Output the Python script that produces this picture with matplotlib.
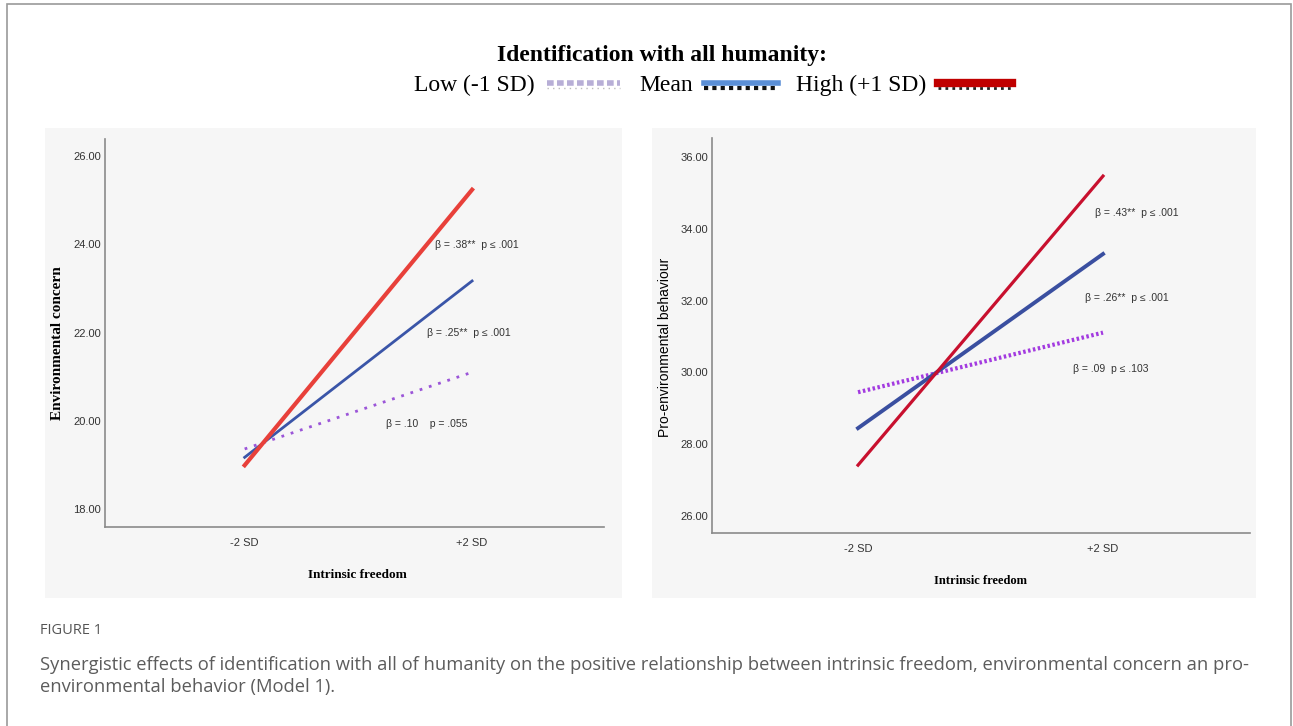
import matplotlib
matplotlib.use("Agg")
import matplotlib.pyplot as plt
from matplotlib.lines import Line2D
from matplotlib.patches import Rectangle
from matplotlib.legend_handler import HandlerBase

# данные
x_pos = [0, 1]
x_labels = ["-2 SD", "+2 SD"]

ec_low = [19.36, 21.10]
ec_mean = [19.17, 23.17]
ec_high = [18.99, 25.24]
ec_ticks = [18, 20, 22, 24, 26]

peb_low = [29.45, 31.11]
peb_mean = [28.45, 33.30]
peb_high = [27.42, 35.47]
peb_ticks = [26, 28, 30, 32, 34, 36]

ec_notes = ["β = .38**  p ≤ .001", "β = .25**  p ≤ .001", "β = .10    p = .055"]
ec_note_xy = [(0.838, 23.98), (0.803, 22.0), (0.623, 19.93)]
peb_notes = ["β = .43**  p ≤ .001", "β = .26**  p ≤ .001", "β = .09  p ≤ .103"]
peb_note_xy = [(0.967, 34.45), (0.927, 32.08), (0.878, 30.11)]

legend_labels = ["Low (-1 SD)", "Mean", "High (+1 SD)"]

W, H = 1293, 726
fig = plt.figure(figsize=(W / 100, H / 100), dpi=100)
fig.patch.set_facecolor("white")

narrow = ["Liberation Sans Narrow", "Liberation Sans", "DejaVu Sans"]
serif = ["Liberation Serif", "DejaVu Serif"]


def fr(x0, y0, x1, y1):
    # пиксели -> доли фигуры
    return [x0 / W, 1 - y1 / H, (x1 - x0) / W, (y1 - y0) / H]


# рамка
fig.add_artist(Rectangle((7 / W, -0.1), (1291 - 7) / W, 1.1 - 4 / H,
                         transform=fig.transFigure, fill=False,
                         edgecolor="#9a9a9a", linewidth=1.2, clip_on=False))

# серые подложки панелей
for box in [(45, 128, 622, 598), (652, 128, 1256, 598)]:
    bg = fig.add_axes(fr(*box))
    bg.set_facecolor("#f6f6f6")
    bg.set_xticks([])
    bg.set_yticks([])
    for s in bg.spines.values():
        s.set_visible(False)


def setup(ax, ticks, ylim, xlim):
    ax.patch.set_alpha(0)
    ax.set_xlim(*xlim)
    ax.set_ylim(*ylim)
    ax.set_yticks(ticks)
    ax.set_yticklabels(["%.2f" % t for t in ticks], family=narrow, fontsize=8, color="#333333")
    ax.set_xticks(x_pos)
    ax.set_xticklabels(x_labels, family=narrow, fontsize=8, color="#333333")
    ax.tick_params(length=0)
    ax.tick_params(axis="y", pad=3)
    ax.tick_params(axis="x", pad=8)
    for s in ["top", "right"]:
        ax.spines[s].set_visible(False)
    for s in ["left", "bottom"]:
        ax.spines[s].set_color("#8a8a8a")
        ax.spines[s].set_linewidth(1.2)


# левая панель
ax1 = fig.add_axes(fr(105, 139, 604, 527))
setup(ax1, ec_ticks, (17.59, 26.39), (-0.614, 1.58))
ax1.plot(x_pos, ec_low, color="#9b55d8", linestyle=(0, (1, 2.5)), linewidth=2)
ax1.plot(x_pos, ec_mean, color="#3a55a8", linewidth=2)
ax1.plot(x_pos, ec_high, color="#e8403a", linewidth=3)
for txt, (tx, ty) in zip(ec_notes, ec_note_xy):
    ax1.text(tx, ty, txt, family=narrow, fontsize=7.5, color="#333333", va="center")
ax1.set_ylabel("Environmental concern", family=serif, fontweight="bold", fontsize=11)
ax1.yaxis.set_label_coords(-0.082, 0.474)
ax1.set_xlabel("Intrinsic freedom", family=serif, fontweight="bold", fontsize=9.5)
ax1.xaxis.set_label_coords(0.505, -0.108)

# правая панель
ax2 = fig.add_axes(fr(712, 138, 1250, 533))
setup(ax2, peb_ticks, (25.53, 36.53), (-0.596, 1.6))
ax2.plot(x_pos, peb_low, color="#a33be0", linestyle=(0, (0.6, 0.6)), linewidth=3)
ax2.plot(x_pos, peb_mean, color="#3a4fa0", linewidth=2.8)
ax2.plot(x_pos, peb_high, color="#c8102e", linewidth=2.3)
for txt, (tx, ty) in zip(peb_notes, peb_note_xy):
    ax2.text(tx, ty, txt, family=narrow, fontsize=7.5, color="#333333", va="center")
ax2.set_ylabel("Pro-environmental behaviour", family=["Liberation Sans", "DejaVu Sans"], fontsize=10)
ax2.yaxis.set_label_coords(-0.074, 0.47)
ax2.set_xlabel("Intrinsic freedom", family=serif, fontweight="bold", fontsize=9)
ax2.xaxis.set_label_coords(0.5, -0.106)


# легенда: цветная линия и чёрный пунктир под ней
class TwoLineHandler(HandlerBase):
    def create_artists(self, legend, orig_handle, xdescent, ydescent,
                       width, height, fontsize, trans):
        top, bottom = orig_handle
        y = height / 2 - ydescent
        arts = []
        for st, dy in [(bottom, -4), (top, 0)]:
            ln = Line2D([-xdescent, width - xdescent], [y + dy, y + dy], **st)
            ln.set_transform(trans)
            arts.append(ln)
        return arts


leg_handles = [
    (dict(color="#b7aed6", linewidth=4, linestyle=(0, (1.2, 0.6))),
     dict(color="#bbbbbb", linewidth=1, linestyle=(0, (1, 3)))),
    (dict(color="#5b8fd6", linewidth=4),
     dict(color="#111111", linewidth=3, linestyle=(0, (1, 1)))),
    (dict(color="#c00000", linewidth=6),
     dict(color="#222222", linewidth=2, linestyle=(0, (1, 1.5)))),
]
fig.text(662 / W, 1 - 56 / H, "Identification with all humanity:", family=serif,
         fontweight="bold", fontsize=17, ha="center", va="center")
fig.legend(leg_handles, legend_labels, loc="center", bbox_to_anchor=(713 / W, 1 - 85 / H),
           ncol=3, frameon=False, handler_map={tuple: TwoLineHandler()},
           prop={"family": serif, "size": 17}, handlelength=3.1, handletextpad=0.5,
           columnspacing=0.8, markerfirst=False)

# подпись
fig.text(40 / W, 1 - 630 / H, "FIGURE 1", family=["Open Sans", "DejaVu Sans"],
         fontsize=10.5, color="#555555", va="center")
fig.text(40 / W, 1 - 676 / H,
         "Synergistic effects of identification with all of humanity on the positive relationship between intrinsic freedom, environmental concern an pro-\nenvironmental behavior (Model 1).",
         family=["Open Sans", "DejaVu Sans"], fontsize=13.2, color="#5c5c5c",
         va="center", linespacing=1.3)

fig.savefig("out.png", dpi=100)
